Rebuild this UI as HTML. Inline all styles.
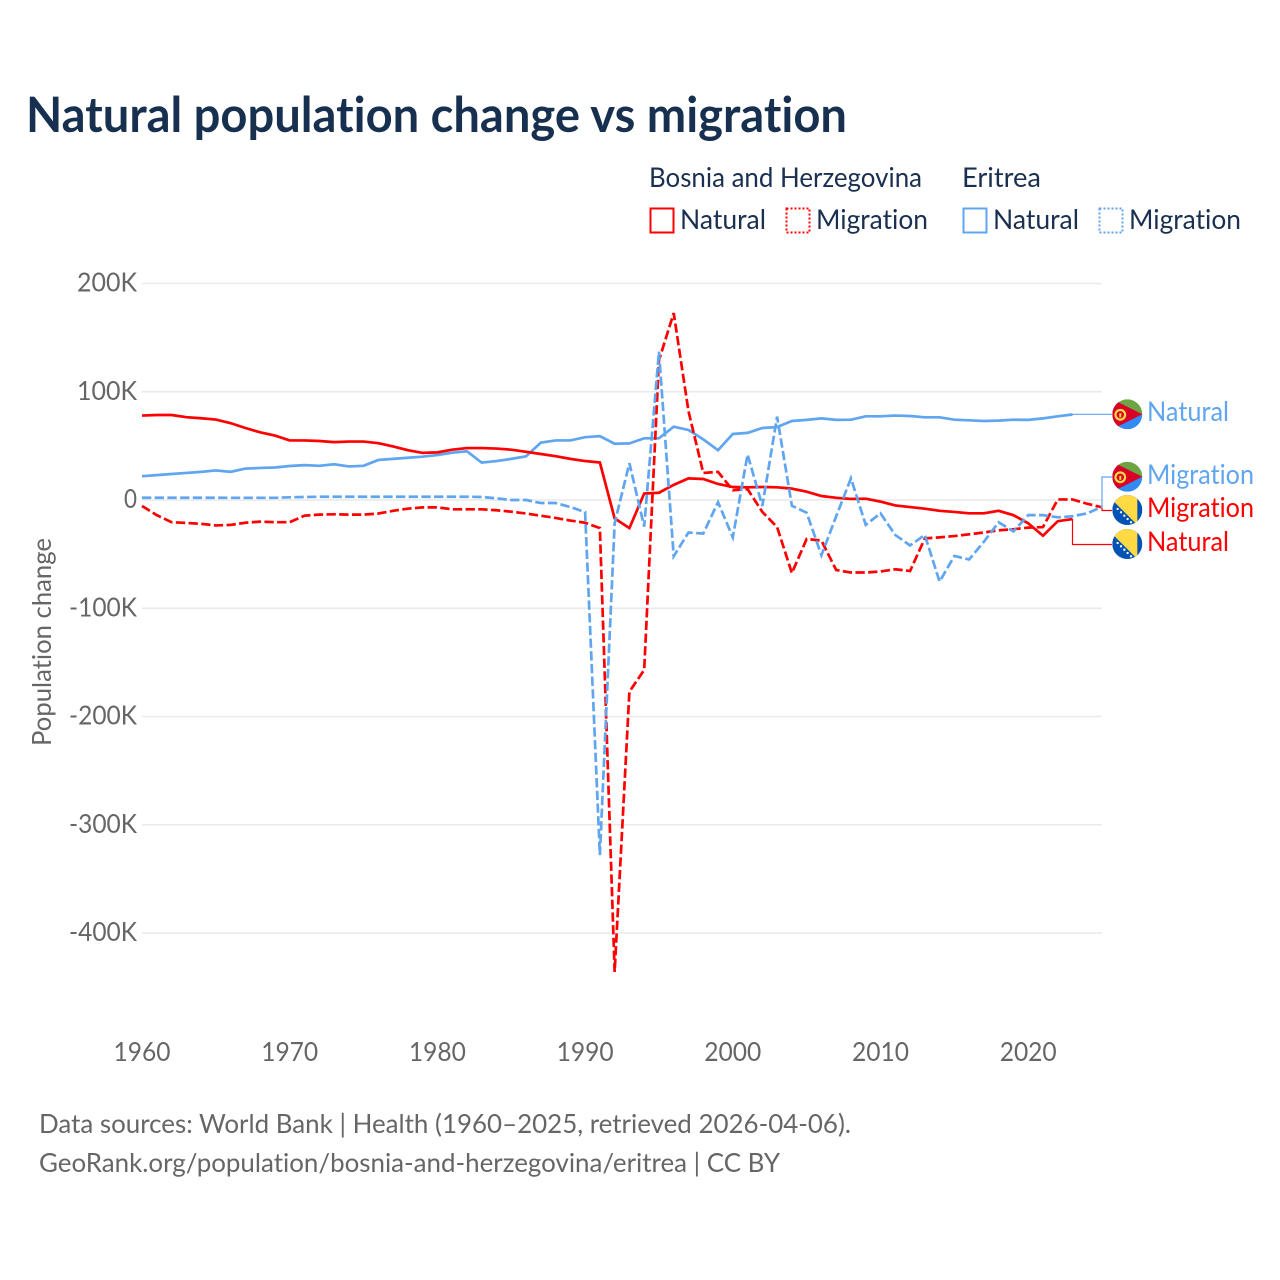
<!DOCTYPE html>
<html>
<head>
<meta charset="utf-8">
<title>Natural population change vs migration</title>
<style>
html,body{margin:0;padding:0;background:#fff;width:1280px;height:1280px;overflow:hidden}
svg{display:block}
text{font-family:"Lato","Carlito","Liberation Sans",sans-serif;font-variant-ligatures:none;font-feature-settings:"liga" 0,"clig" 0}
.tick{font-size:26.5px;fill:#666}
.leg{font-size:27.5px;fill:#1a3050}
.foot{font-size:26.5px;fill:#666}
.end{font-size:27.5px}
</style>
</head>
<body>
<svg id="chart" width="1280" height="1280" viewBox="0 0 1280 1280" xmlns="http://www.w3.org/2000/svg">
  <defs>
    <clipPath id="flag-clip"><circle cx="0" cy="0" r="15"/></clipPath>
    <g id="flag-er">
      <g clip-path="url(#flag-clip)">
        <rect x="-15" y="-15" width="30" height="15" fill="#6da544"/>
        <rect x="-15" y="0" width="30" height="15" fill="#338af3"/>
        <polygon points="-15,-15 15,0 -15,15" fill="#d80027"/>
        <circle cx="-7" cy="0.5" r="4.8" fill="none" stroke="#ffda44" stroke-width="2.2"/>
        <rect x="-8" y="-1" width="2" height="4" fill="#ffda44"/>
      </g>
    </g>
    <g id="flag-ba">
      <g clip-path="url(#flag-clip)">
        <rect x="-15" y="-15" width="30" height="30" fill="#0052b4"/>
        <polygon points="-20,-15 10,-15 10,15" fill="#ffda44"/>
        <circle cx="-9.7" cy="-1" r="1.15" fill="#fff"/>
        <circle cx="-6.3" cy="2.3" r="1.15" fill="#fff"/>
        <circle cx="-3" cy="5.7" r="1.15" fill="#fff"/>
        <circle cx="0.3" cy="9" r="1.15" fill="#fff"/>
        <circle cx="3.7" cy="12.3" r="1.15" fill="#fff"/>
      </g>
    </g>
  </defs>

  <text x="26" y="132" font-size="48.5" font-weight="700" fill="#18304f" textLength="821" lengthAdjust="spacingAndGlyphs">Natural population change vs migration</text>

  <g>
    <text class="leg" x="649" y="187" textLength="273" lengthAdjust="spacingAndGlyphs">Bosnia and Herzegovina</text>
    <text class="leg" x="962" y="187" textLength="79" lengthAdjust="spacingAndGlyphs">Eritrea</text>

    <rect x="650.5" y="208.5" width="23" height="24" fill="none" stroke="#ff0000" stroke-width="2"/>
    <text class="leg" x="680" y="229" textLength="86" lengthAdjust="spacingAndGlyphs">Natural</text>
    <rect x="786.5" y="208.5" width="23" height="24" fill="none" stroke="#ff0000" stroke-width="2" stroke-dasharray="2,2"/>
    <text class="leg" x="816" y="229" textLength="112" lengthAdjust="spacingAndGlyphs">Migration</text>

    <rect x="963.5" y="208.5" width="23" height="24" fill="none" stroke="#60a5ef" stroke-width="2"/>
    <text class="leg" x="993" y="229" textLength="86" lengthAdjust="spacingAndGlyphs">Natural</text>
    <rect x="1099.5" y="208.5" width="23" height="24" fill="none" stroke="#60a5ef" stroke-width="2" stroke-dasharray="2,2"/>
    <text class="leg" x="1129" y="229" textLength="112" lengthAdjust="spacingAndGlyphs">Migration</text>
  </g>

  <g id="grid"></g>
  <g id="y-ticks"></g>
  <g id="x-ticks"></g>
  <text class="tick" transform="translate(51,746) rotate(-90)" x="0" y="0" textLength="208" lengthAdjust="spacingAndGlyphs">Population change</text>

  <g id="connectors"></g>
  <g id="series"></g>

  <g>
    <use href="#flag-er" x="1127.3" y="414.3"/>
    <text class="end" x="1147" y="421" fill="#60a5ef" textLength="82" lengthAdjust="spacingAndGlyphs">Natural</text>
    <use href="#flag-er" x="1127.3" y="476.8"/>
    <text class="end" x="1147" y="484" fill="#60a5ef" textLength="107" lengthAdjust="spacingAndGlyphs">Migration</text>
    <use href="#flag-ba" x="1127.3" y="510"/>
    <text class="end" x="1147" y="517" fill="#ff0000" textLength="107" lengthAdjust="spacingAndGlyphs">Migration</text>
    <use href="#flag-ba" x="1127.3" y="544"/>
    <text class="end" x="1147" y="551" fill="#ff0000" textLength="82" lengthAdjust="spacingAndGlyphs">Natural</text>
  </g>

  <text class="foot" x="39" y="1133" textLength="812" lengthAdjust="spacingAndGlyphs">Data sources: World Bank | Health (1960–2025, retrieved 2026-04-06).</text>
  <text class="foot" x="39" y="1172" textLength="741" lengthAdjust="spacingAndGlyphs">GeoRank.org/population/bosnia-and-herzegovina/eritrea | CC BY</text>
</svg>
<script>
var startYear = 1960;
var yTickValues = [200, 100, 0, -100, -200, -300, -400];
var yTickLabels = ["200K", "100K", "0", "-100K", "-200K", "-300K", "-400K"];
var xTickValues = [1960, 1970, 1980, 1990, 2000, 2010, 2020];
var xTickLabels = ["1960", "1970", "1980", "1990", "2000", "2010", "2020"];

var bosniaNatural = [78, 78.5, 78.5, 76.5, 75.5, 74.3, 71, 66.5, 62.5, 59.5, 55, 55, 54.5, 53.5, 54, 54, 52.5, 49.5, 46, 43.5, 44, 46.5, 48, 48, 47.5, 46.5, 44.5, 42.5, 40.5, 38, 36, 34.6, -17, -26, 6, 6.7, 14, 20, 19.4, 14.8, 12, 11.7, 12, 11.7, 10.5, 7.7, 3.7, 2, 1, 1.2, -1.5, -5, -6.5, -8, -10, -11, -12.3, -12.3, -10, -14, -21.5, -33, -19.6, -17.6];
var bosniaMigration = [-5.5, -14, -20.5, -21.2, -22, -23.5, -23, -21, -20, -20.5, -20.5, -14.5, -13.5, -13.2, -13.5, -13.5, -12.5, -10, -8, -6.8, -6.8, -8.6, -8.6, -8.6, -9.5, -10.8, -12.5, -14.5, -16.6, -19, -21, -26, -436, -177, -157, 129, 172.7, 82, 25, 26, 9, 10, -11, -25, -67.5, -36, -37.5, -64.7, -67, -67, -66, -64, -65.6, -35.5, -34.5, -33.3, -31.7, -30, -28, -27, -25.5, -25, 0.5, 0.5, -3.5, -6.8];
var eritreaNatural = [22, 23, 24, 25, 26, 27.3, 26, 29, 29.6, 30, 31.4, 32.2, 31.6, 33, 31, 31.6, 37, 38, 39, 40, 41.5, 43.7, 45, 34.5, 36, 38, 40.3, 53, 55, 55, 58, 59, 52, 52.3, 57, 57, 67.7, 64.7, 56, 46, 61, 62, 66.5, 67.4, 73, 74, 75.4, 74, 74.2, 77.3, 77.3, 78, 77.6, 76.4, 76.4, 74.2, 73.6, 73, 73.3, 74.2, 74, 75.4, 77.3, 79];
var eritreaMigration = [2.1, 2.1, 2.1, 2.1, 2.1, 2.1, 2, 2, 2, 2, 2.5, 2.8, 3, 3, 3, 3, 3, 3, 3, 3, 3, 3, 3, 2.8, 1.5, 0, 0, -2.8, -2.8, -6.5, -11.2, -328, -21.5, 34, -24.6, 137, -52, -30, -31, -2, -34.5, 42, -5.5, 77, -5.3, -11.7, -51, -15, 20, -23, -12.3, -32.3, -42, -32.3, -75.4, -51.7, -55, -38.5, -20.6, -29, -14, -14, -16, -15, -12.3, -6.2];

var X0 = 142, XPERYEAR = 14.77, Y0 = 500, YPERK = 1.0825, RIGHT = 1102;
function xScale(year) { return X0 + (year - startYear) * XPERYEAR; }
function yScale(v) { return Y0 - v * YPERK; }

var SVGNS = "http://www.w3.org/2000/svg";
function make(tag, attrs, parent) {
  var el = document.createElementNS(SVGNS, tag);
  for (var k in attrs) el.setAttribute(k, attrs[k]);
  parent.appendChild(el);
  return el;
}

var grid = document.getElementById("grid");
var yTicks = document.getElementById("y-ticks");
var xTicks = document.getElementById("x-ticks");
var seriesGroup = document.getElementById("series");
var connectors = document.getElementById("connectors");

yTickValues.forEach(function (v, i) {
  var gy = yScale(v);
  var line = make("line", {x1: X0, x2: RIGHT, y1: gy, y2: gy, stroke: "#e9e9e9", "stroke-width": 1.5}, grid);
  
  
  var label = yTickLabels[i];
  var t = make("text", {x: 137, y: gy + 8, "text-anchor": "end", "class": "tick", textLength: label.length === 1 ? 13 : (label.charAt(0) === "-" ? 68 : 60), lengthAdjust: "spacingAndGlyphs"}, yTicks);
  t.textContent = label;
  
  
});

xTickValues.forEach(function (year, i) {
  var t = make("text", {x: xScale(year), y: 1061, "text-anchor": "middle", "class": "tick", textLength: 57, lengthAdjust: "spacingAndGlyphs"}, xTicks);
  t.textContent = xTickLabels[i];
  
  
});

function pathFor(values) {
  return values.map(function (v, i) {
    return (i ? "L" : "M") + xScale(startYear + i).toFixed(2) + " " + yScale(v).toFixed(2);
  }).join(" ");
}

function drawSeries(values, color, dashed, name) {
  var p = make("path", {d: pathFor(values), fill: "none", stroke: color, "stroke-width": 2.7, "stroke-linejoin": "miter"}, seriesGroup);
  if (dashed) p.setAttribute("stroke-dasharray", "9.3,3.4");
  
  
}

function lastPoint(values) {
  var i = values.length - 1;
  return [xScale(startYear + i), yScale(values[i])];
}

function drawConnector(values, midX, labelY, color, name) {
  var e = lastPoint(values);
  var p = make("path", {d: "M" + e[0] + " " + e[1] + " H" + midX + " V" + labelY + " H1112", fill: "none", stroke: color, "stroke-width": 1.2}, connectors);
  
  
}

drawConnector(eritreaNatural, xScale(startYear + eritreaNatural.length - 1), 414.3, "#60a5ef", "connector-eritrea-natural");
drawConnector(eritreaMigration, RIGHT, 477, "#60a5ef", "connector-eritrea-migration");
drawConnector(bosniaMigration, RIGHT, 510.5, "#ff0000", "connector-bosnia-migration");
drawConnector(bosniaNatural, xScale(startYear + bosniaNatural.length - 1), 544.5, "#ff0000", "connector-bosnia-natural");

drawSeries(eritreaNatural, "#60a5ef", false, "line-eritrea-natural");
drawSeries(bosniaNatural, "#ff0000", false, "line-bosnia-natural");
drawSeries(bosniaMigration, "#ff0000", true, "line-bosnia-migration");
drawSeries(eritreaMigration, "#60a5ef", true, "line-eritrea-migration");
</script>
</body>
</html>
